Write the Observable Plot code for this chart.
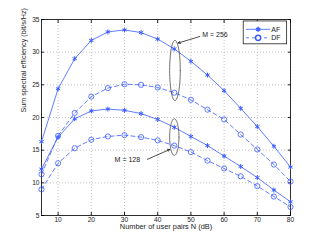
<!DOCTYPE html>
<html><head><meta charset="utf-8">
<script src="https://cdn.jsdelivr.net/npm/d3@7"></script>
<script src="https://cdn.jsdelivr.net/npm/@observablehq/plot@0.6"></script>
<style>body{margin:0;background:#fff}</style>
</head><body><div id="chart"></div>
<script>
const users = [5,10,15,20,25,30,35,40,45,50,55,60,65,70,75,80];
const af256 = [16.3,24.4,29.0,31.8,33.1,33.4,33.0,32.0,30.5,28.6,26.5,24.1,21.4,18.6,15.6,12.4];
const df256 = [11.3,17.2,20.7,23.2,24.5,25.1,25.0,24.6,23.8,22.7,21.2,19.7,17.4,15.1,12.8,10.2];
const af128 = [12.1,17.0,19.8,21.0,21.3,21.1,20.6,19.7,18.5,17.1,15.7,14.1,12.5,10.8,8.9,7.1];
const df128 = [9.0,13.0,15.3,16.6,17.1,17.3,17.0,16.5,15.7,14.7,13.4,12.2,11.0,9.5,7.9,6.3];
const xTicks = [10,20,30,40,50,60,70,80];
const yTicks = [5,10,15,20,25,30,35];
const seriesNames = ["AF","DF"];

const rows = [];
users.forEach((u,i)=>{
  rows.push({n:u, v:af256[i], s:"AF", g:"AF256"});
  rows.push({n:u, v:df256[i], s:"DF", g:"DF256"});
  rows.push({n:u, v:af128[i], s:"AF", g:"AF128"});
  rows.push({n:u, v:df128[i], s:"DF", g:"DF128"});
});
const AF = rows.filter(d=>d.s==="AF"), DF = rows.filter(d=>d.s==="DF");

// annotation ellipses (data coordinates)
function ellipse(cx, cy, rx, ry){
  const pts=[]; for(let k=0;k<=60;k++){const t=k/60*2*Math.PI; pts.push({n:cx+rx*Math.cos(t), v:cy+ry*Math.sin(t)});} return pts;
}
const e256 = ellipse(45.2, 27.2, 1.6, 4.6);
const e128 = ellipse(45.0, 17.0, 1.4, 2.8);
const blue = "#3a5cff";
const font = "Liberation Sans, Arial, sans-serif";

const legendRows = [{n1:66.6,n2:73.9,v:33.5,s:"AF"},{n1:66.6,n2:73.9,v:32.2,s:"DF"}];

const chart = Plot.plot({
  width:321, height:242,
  marginLeft:41, marginRight:31, marginTop:19, marginBottom:27,
  style:{fontFamily:font, fontSize:"6.6px", background:"#fff", color:"#222"},
  x:{domain:[5,80]},
  y:{domain:[5,35]},
  marks:[
    Plot.gridX(xTicks,{stroke:"#999", strokeOpacity:1, strokeDasharray:"1,2", strokeWidth:0.6}),
    Plot.gridY(yTicks,{stroke:"#999", strokeOpacity:1, strokeDasharray:"1,2", strokeWidth:0.6}),
    Plot.axisX(xTicks,{tickSize:-3, tickPadding:4.5, label:null, fontSize:6.6}),
    Plot.axisX(xTicks,{anchor:"top", tickSize:-3, tickFormat:()=> "", label:null}),
    Plot.axisY(yTicks,{tickSize:-3, tickPadding:5, label:null, fontSize:6.6}),
    Plot.axisY(yTicks,{anchor:"right", tickSize:-3, tickFormat:()=> "", label:null}),
    Plot.frame({stroke:"#000", strokeWidth:0.8}),
    Plot.line(AF,{x:"n", y:"v", z:"g", stroke:blue, strokeWidth:0.8}),
    Plot.line(DF,{x:"n", y:"v", z:"g", stroke:blue, strokeWidth:0.8, strokeDasharray:"4,3"}),
    Plot.dot(AF,{x:"n", y:"v", symbol:"asterisk", r:2.3, stroke:blue, strokeWidth:1}),
    Plot.dot(DF,{x:"n", y:"v", symbol:"circle", r:2.6, stroke:blue, fill:"none", strokeWidth:0.8}),
    Plot.line(e256,{x:"n", y:"v", stroke:"#333", strokeWidth:0.7, curve:"linear"}),
    Plot.line(e128,{x:"n", y:"v", stroke:"#333", strokeWidth:0.7, curve:"linear"}),
    Plot.arrow([{x1:52.7,y1:32.4,x2:46.2,y2:31.4}],{x1:"x1",y1:"y1",x2:"x2",y2:"y2", stroke:"#000", strokeWidth:0.7, headLength:5}),
    Plot.arrow([{x1:36.9,y1:13.6,x2:43.6,y2:15.1}],{x1:"x1",y1:"y1",x2:"x2",y2:"y2", stroke:"#000", strokeWidth:0.7, headLength:5}),
    Plot.text(["M = 256"],{x:53.4, y:32.6, text:d=>d, textAnchor:"start", fontSize:7, fill:"#222"}),
    Plot.text(["M = 128"],{x:34.7, y:13.6, text:d=>d, textAnchor:"end", fontSize:7, fill:"#222"}),
    // legend
    Plot.rect([0],{x1:65.9, x2:79.0, y1:31.2, y2:34.7, fill:"#fff", stroke:"#000", strokeWidth:0.7}),
    Plot.link(legendRows.filter(d=>d.s==="AF"),{x1:"n1", x2:"n2", y1:"v", y2:"v", stroke:blue, strokeWidth:0.8}),
    Plot.link(legendRows.filter(d=>d.s==="DF"),{x1:"n1", x2:"n2", y1:"v", y2:"v", stroke:blue, strokeWidth:0.8, strokeDasharray:"3,3"}),
    Plot.dot(legendRows.filter(d=>d.s==="AF"),{x:d=>(d.n1+d.n2)/2, y:"v", symbol:"asterisk", r:2.3, stroke:blue}),
    Plot.dot(legendRows.filter(d=>d.s==="DF"),{x:d=>(d.n1+d.n2)/2, y:"v", symbol:"circle", r:2.6, stroke:blue, fill:"#fff"}),
    Plot.text(legendRows,{x:d=>d.n2+0.3, y:"v", text:"s", textAnchor:"start", fontSize:7, fill:"#222"}),
    // axis titles
    Plot.text(["Number of user pairs N (dB)"],{frameAnchor:"bottom", dy:13, dx:0, text:d=>d, fontSize:7.4, fill:"#222"}),
    Plot.text(["Sum spectral efficiency (bit/s/Hz)"],{frameAnchor:"left", rotate:-90, dx:-18, dy:-5, text:d=>d, fontSize:7.2, fill:"#222"})
  ]
});
document.getElementById("chart").appendChild(chart);
</script></body></html>
